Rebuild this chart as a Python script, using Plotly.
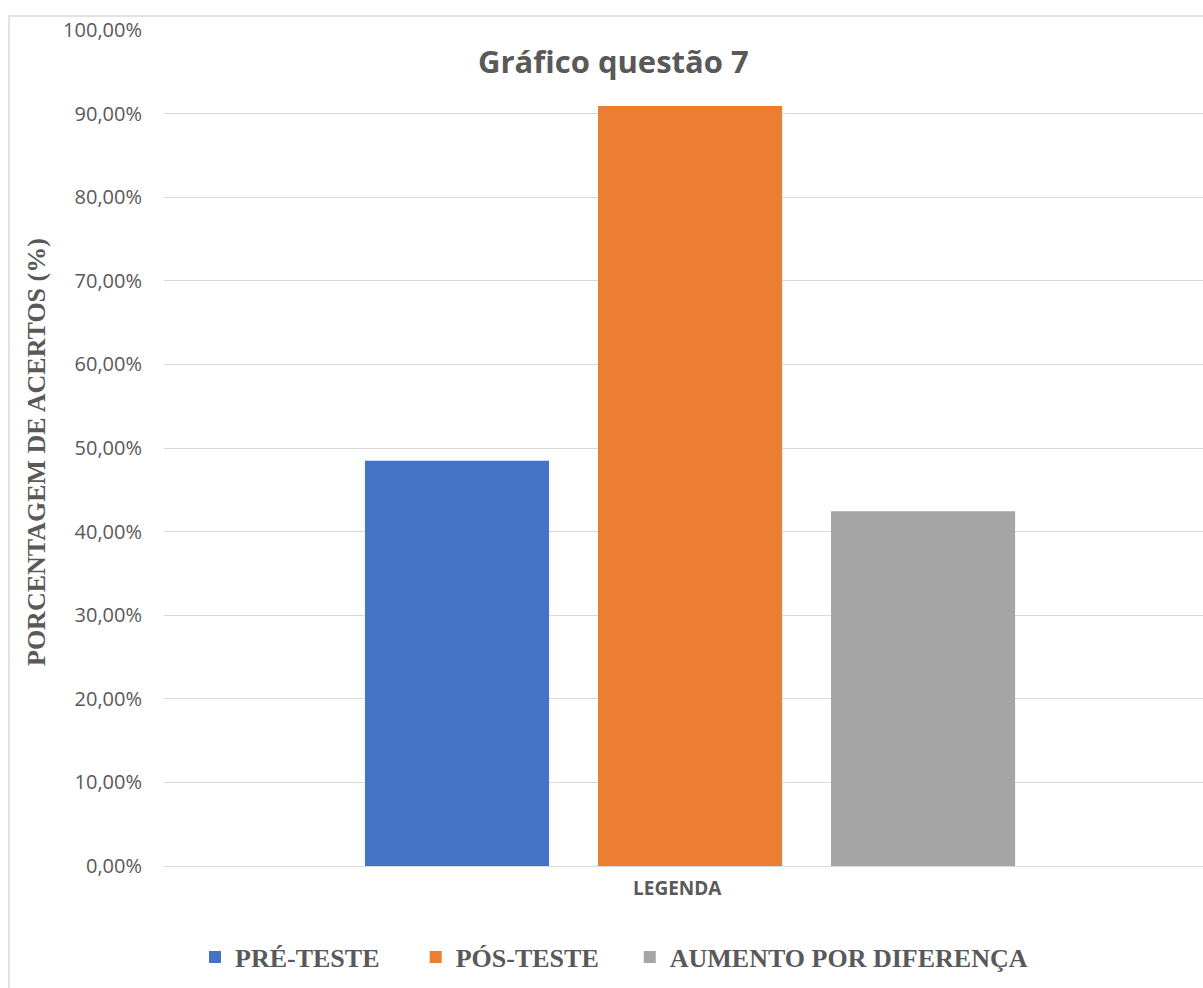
import plotly.graph_objects as go

categories = ["LEGENDA"]
series_names = ["PRÉ-TESTE", "PÓS-TESTE", "AUMENTO POR DIFERENÇA"]
series_values = [[0.4848], [0.9091], [0.4242]]
series_colors = ["#4472C4", "#ED7D31", "#A5A5A5"]
y_ticks = [i / 10 for i in range(11)]

W, H = 1203, 988
L, R, T, B = 164, 0, 30, 122
pw = W - L - R
ph = H - T - B

def px_x(x):
    return (x - L) / pw

def px_y(y):
    return (H - B - y) / ph

spacers = ["\u2003\u2009", "\u2003", ""]

fig = go.Figure()
for name, vals, col, sp in zip(series_names, series_values, series_colors, spacers):
    fig.add_trace(go.Bar(x=categories, y=vals, name=name + sp, marker=dict(color=col, line=dict(width=0))))

grey = "#595959"
fig.update_layout(
    width=W, height=H,
    margin=dict(l=L, r=R, t=T, b=B, pad=0),
    paper_bgcolor="white", plot_bgcolor="white",
    barmode="group", bargap=0.3355, bargroupgap=0.21,
    separators=",.",
    showlegend=True,
    legend=dict(orientation="h", x=px_x(614), xanchor="center", y=px_y(957), yanchor="middle",
                font=dict(family="Liberation Serif", size=26, color=grey, weight="bold"),
                itemwidth=30, bgcolor="rgba(0,0,0,0)"),
    xaxis=dict(type="category", range=[-0.5, 0.4876], showgrid=False, showline=False, zeroline=False,
               showticklabels=False, ticks=""),
    yaxis=dict(range=[0, 1], tickvals=y_ticks, tickformat=".2%", showgrid=True, gridcolor="#d9d9d9",
               gridwidth=1, zeroline=True, zerolinecolor="#d9d9d9", zerolinewidth=1, showline=False,
               tickfont=dict(family="Open Sans", size=20, color=grey), ticks="", ticklabelstandoff=21),
)

fig.add_annotation(text="Gráfico questão 7", xref="paper", yref="paper", x=px_x(613), y=px_y(61),
                   xanchor="center", yanchor="middle", showarrow=False,
                   font=dict(family="Open Sans", size=31, color=grey, weight="bold"))
fig.add_annotation(text=categories[0], xref="paper", yref="paper", x=px_x(677), y=px_y(888),
                   xanchor="center", yanchor="middle", showarrow=False,
                   font=dict(family="Open Sans", size=19, color=grey, weight="bold"))
fig.add_annotation(text="PORCENTAGEM DE ACERTOS (%)", xref="paper", yref="paper", x=px_x(36), y=px_y(452),
                   xanchor="center", yanchor="middle", showarrow=False, textangle=-90,
                   font=dict(family="Liberation Serif", size=26, color=grey, weight="bold"))
fig.add_shape(type="rect", xref="paper", yref="paper", x0=px_x(9), y0=px_y(1000), x1=px_x(1215), y1=px_y(16),
              line=dict(color="#d9d9d9", width=1.5), fillcolor="rgba(0,0,0,0)", layer="below")

fig.write_html("out.html", config={"displayModeBar": False},
               post_script="document.body.style.margin='0';document.body.style.overflow='hidden';")
